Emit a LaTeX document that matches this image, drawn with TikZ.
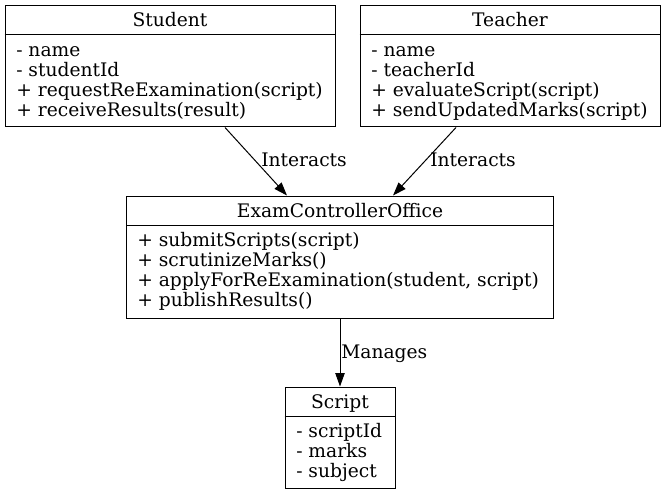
\documentclass[tikz,border=0pt]{standalone}
\usepackage{fontspec}
\setmainfont{DejaVu Serif}
\usetikzlibrary{arrows.meta}
\begin{document}
\begin{tikzpicture}[x=0.75pt,y=-0.75pt,
  font=\fontsize{14pt}{15pt}\selectfont,
  classbox/.style={draw,line width=0.75pt,rectangle,inner sep=0pt},
  sep/.style={line width=0.75pt},
  txt/.style={inner sep=0pt,anchor=base west},
  head/.style={inner sep=0pt,anchor=base},
  lbl/.style={inner sep=0pt,anchor=base west},
  arr/.style={line width=0.75pt,-{Triangle[length=10pt,width=7pt]}}]
\useasboundingbox (0,0) rectangle (666,495);
% boxes
\node[classbox,minimum width=247.5pt,minimum height=91.125pt] (stu) at (170,66.25) {};
\node[classbox,minimum width=225pt,minimum height=91.125pt] (tea) at (510,66.25) {};
\node[classbox,minimum width=320.25pt,minimum height=91.5pt] (eco) at (340,257) {};
\node[classbox,minimum width=82.5pt,minimum height=75.75pt] (scr) at (340,437.5) {};
% header separators
\draw[sep] ([yshift=-22.5pt]stu.north west) -- ([yshift=-22.5pt]stu.north east);
\draw[sep] ([yshift=-22.5pt]tea.north west) -- ([yshift=-22.5pt]tea.north east);
\draw[sep] ([yshift=-22.5pt]eco.north west) -- ([yshift=-22.5pt]eco.north east);
\draw[sep] ([yshift=-22.5pt]scr.north west) -- ([yshift=-22.5pt]scr.north east);
% headers
\node[head] (stuh) at (170,26.5) {Student};
\node[head] (teah) at (510,26.5) {Teacher};
\node[head] (ecoh) at (340,217) {ExamControllerOffice};
\node[head] (scrh) at (340,408) {Script};
% Student members
\node[txt] (stu1) at (16,56.7) {- name};
\node[txt] (stu2) at (16,76.7) {- studentId};
\node[txt] (stu3) at (16,96.7) {+ requestReExamination(script)};
\node[txt] (stu4) at (16,116.7) {+ receiveResults(result)};
% Teacher members
\node[txt] (tea1) at (371,56.7) {- name};
\node[txt] (tea2) at (371,76.7) {- teacherId};
\node[txt] (tea3) at (371,96.7) {+ evaluateScript(script)};
\node[txt] (tea4) at (371,116.7) {+ sendUpdatedMarks(script)};
% ExamControllerOffice members
\node[txt] (eco1) at (137,246.7) {+ submitScripts(script)};
\node[txt] (eco2) at (137,266.7) {+ scrutinizeMarks()};
\node[txt] (eco3) at (137,286.7) {+ applyForReExamination(student, script)};
\node[txt] (eco4) at (137,306.7) {+ publishResults()};
% Script members
\node[txt] (scr1) at (296,437) {- scriptId};
\node[txt] (scr2) at (296,457) {- marks};
\node[txt] (scr3) at (296,477) {- subject};
% connectors
\draw[arr] ([xshift=41.25pt]stu.south) -- ([xshift=-39.75pt]eco.north);
\draw[arr] ([xshift=-40.5pt]tea.south) -- ([xshift=39.75pt]eco.north);
\draw[arr] (eco.south) -- (scr.north);
% labels
\node[lbl] (l1) at (261,167) {Interacts};
\node[lbl] (l2) at (430,167) {Interacts};
\node[lbl] (l3) at (341,358) {Manages};
\end{tikzpicture}
\end{document}
